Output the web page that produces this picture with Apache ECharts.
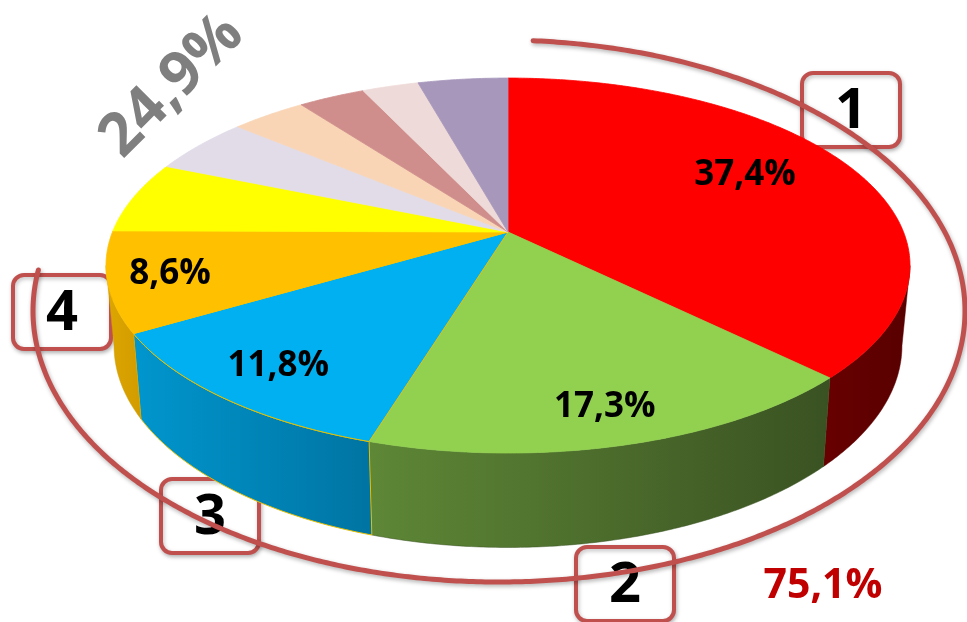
<!DOCTYPE html>
<html><head><meta charset="utf-8">
<script src="https://cdn.jsdelivr.net/npm/echarts@6/dist/echarts.min.js"></script>
<style>html,body{margin:0;padding:0;background:#fff}#c{width:967px;height:622px}</style>
</head><body><div id="c"></div>
<script>
// ---- data ----
const categories = ['1', '2', '3', '4', '5', '6', '7', '8', '9', '10'];
const values = [37.4, 17.3, 11.8, 8.6, 6.2, 4.9, 3.6, 3.2, 2.7, 4.3];
const labelledCount = 4;           // slices carrying a % label and a numbered box
// ---- styles ----
const FONT = 'Open Sans';
const topColors = ['#FF0000', '#92D050', '#00B0F0', '#FFC000', '#FFFF00', '#E1DCE8', '#F9D5B6', '#CF8E8C', '#EEDAD8', '#A797BB'];
const sideColors = [['#680000', '#580000'], ['#5E8736', '#3A5222'], ['#0096CE', '#0074A2'], ['#DDA600', '#D29C00'],
  ['#D8D800', '#C8C800'], ['#BDB8C4', '#B0AAB8'], ['#D8B698', '#CCA88A'], ['#B07472', '#A06664'], ['#CBB8B6', '#BBA8A6'], ['#8C7CA0', '#7E6E92']];
const labelRadius = [0.68, 0.85, 0.83, 0.85];

const fmt = v => v.toFixed(1).replace('.', ',') + '%';
const total = values.reduce((a, b) => a + b, 0);
const starts = [];
values.reduce((acc, v, i) => { starts[i] = acc / total * 360; return acc + v; }, 0);

// perspective pie geometry
const P = { cx: 508, cy: 232, R: 395.5, S: 181.5, k: 0.179, H: 77.5, sx: 0.98 };
function proj(theta, f, bottom) {
  const t = theta * Math.PI / 180;
  const u = Math.sin(t) * f, v = -Math.cos(t) * f;
  const w = 1 - P.k * v;
  let x = P.cx + P.R * u / w, y = P.cy + P.S * v / w;
  if (bottom) { x = P.cx + (x - P.cx) * P.sx; y += P.H / w; }
  return [x, y];
}
const thR = Math.acos(-P.k) * 180 / Math.PI;
const thL = 360 - thR;

function renderItem(params, api) {
  const i = params.dataIndex;
  const a0 = starts[i], a1 = a0 + api.value(0) / total * 360;
  const children = [];
  const edge = i === 2 ? '#E8C000' : topColors[i];
  const pts = [[P.cx, P.cy]];
  const n = Math.max(2, Math.ceil((a1 - a0) / 0.5));
  for (let j = 0; j <= n; j++) pts.push(proj(a0 + (a1 - a0) * j / n, 1, false));
  children.push({ type: 'polygon', z2: 10, shape: { points: pts },
    style: { fill: topColors[i], stroke: edge, lineWidth: i === 2 ? 1 : 0.8, lineJoin: 'round' } });
  const w0 = Math.max(a0, thR), w1 = Math.min(a1, thL);
  if (w1 > w0) {
    const m = Math.max(2, Math.ceil((w1 - w0) / 0.5));
    const tp = [], bp = [];
    for (let j = 0; j <= m; j++) {
      const th = w0 + (w1 - w0) * j / m;
      tp.push(proj(th, 1, false)); bp.push(proj(th, 1, true));
    }
    const sc = sideColors[i];
    children.push({ type: 'polygon', z2: 5, shape: { points: tp.concat(bp.reverse()) },
      style: { fill: new echarts.graphic.LinearGradient(0, 0, 1, 0, [{ offset: 0, color: sc[0] }, { offset: 1, color: sc[1] }]),
        stroke: i === 2 ? '#E8C000' : sc[1], lineWidth: i === 2 ? 1 : 0.5 } });
  }
  if (i < labelledCount) {
    const p = proj((a0 + a1) / 2, labelRadius[i], false);
    children.push({ type: 'text', z2: 20, x: p[0], y: p[1] - (i === 0 ? 12 : 0),
      style: { text: fmt(api.value(0)), fontFamily: FONT, fontWeight: 'bold', fontSize: 35, fill: '#000',
        align: 'center', verticalAlign: 'middle' } });
  }
  return { type: 'group', children };
}

// decorative enclosing arc
const arc = { cx: 499, cy: 311, rx: 466, ry: 271, from: 4.2, to: 279 };
const arcPts = [];
for (let t = arc.from; t <= arc.to; t += 0.5) {
  const r = t * Math.PI / 180;
  arcPts.push([arc.cx + arc.rx * Math.sin(r), arc.cy - arc.ry * Math.cos(r)]);
}
const boxes = [[851, 110], [625, 584], [210, 516], [62, 312]];
const boxEls = boxes.map((b, i) => ({
  type: 'group', x: b[0], y: b[1], z: 110,
  children: [
    { type: 'rect', shape: { x: -49, y: -37, width: 98, height: 74, r: 11 },
      style: { fill: '#fff', stroke: '#C0504D', lineWidth: 4, shadowColor: 'rgba(0,0,0,0.25)', shadowBlur: 4, shadowOffsetX: 1, shadowOffsetY: 2 } },
    { type: 'text', style: { text: categories[i], x: 0, y: 2, fontFamily: FONT, fontWeight: 'bold', fontSize: 56, fill: '#000', align: 'center', verticalAlign: 'middle' } }
  ]
}));
const mainShare = values.slice(0, labelledCount).reduce((a, b) => a + b, 0);
const restShare = total - mainShare;

const chart = echarts.init(document.getElementById('c'), null, { renderer: 'canvas' });
chart.setOption({
  animation: false,
  backgroundColor: '#fff',
  series: [{
    type: 'custom', coordinateSystem: 'none', renderItem,
    data: values.map((v, i) => ({ name: categories[i], value: v }))
  }],
  graphic: [
    { type: 'polyline', z: 100, shape: { points: arcPts },
      style: { stroke: '#C0504D', lineWidth: 5, fill: null, lineCap: 'round', shadowColor: 'rgba(0,0,0,0.3)', shadowBlur: 4, shadowOffsetX: 1, shadowOffsetY: 2 } },
    ...boxEls,
    { type: 'text', z: 110, x: 172, y: 86, rotation: Math.PI / 4,
      style: { text: fmt(restShare), fontFamily: FONT, fontWeight: 'bold', fontSize: 60, fill: '#7F7F7F', align: 'center', verticalAlign: 'middle' } },
    { type: 'text', z: 110, x: 823, y: 586,
      style: { text: fmt(mainShare), fontFamily: FONT, fontWeight: 'bold', fontSize: 41, fill: '#C00000', align: 'center', verticalAlign: 'middle' } }
  ]
});
</script></body></html>
